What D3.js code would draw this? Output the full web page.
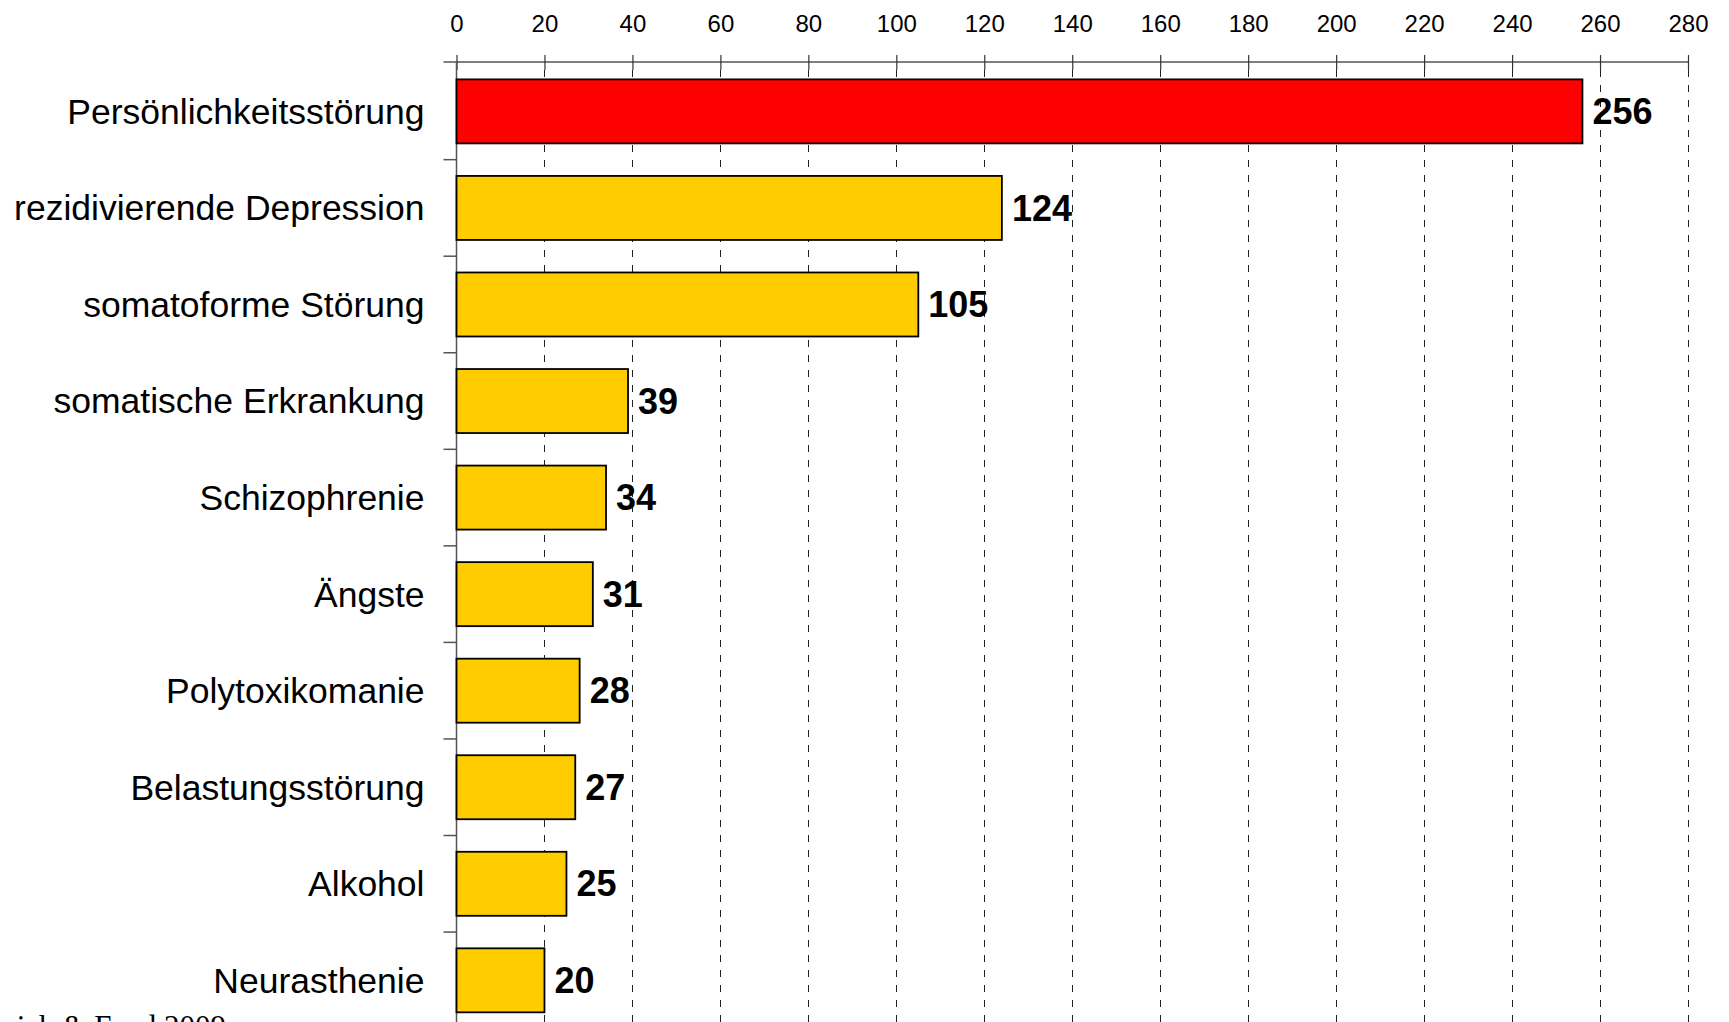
<!DOCTYPE html>
<html><head><meta charset="utf-8">
<script src="https://cdn.jsdelivr.net/npm/d3@7"></script>
<style>
html,body{margin:0;padding:0;background:#fff;overflow:hidden;}
svg{display:block;}
</style></head>
<body>
<svg id="chart" width="1729" height="1022"></svg>
<script>
const categories = ["Persönlichkeitsstörung","rezidivierende Depression","somatoforme Störung","somatische Erkrankung","Schizophrenie","Ängste","Polytoxikomanie","Belastungsstörung","Alkohol","Neurasthenie"];
const values = [256,124,105,39,34,31,28,27,25,20];
const barColors = ["#FF0000","#FFCC00","#FFCC00","#FFCC00","#FFCC00","#FFCC00","#FFCC00","#FFCC00","#FFCC00","#FFCC00"];
const tickValues = [0,20,40,60,80,100,120,140,160,180,200,220,240,260,280];
const sourceText = "ich & Fend 2009";

(function(){
const svg = d3.select("#chart");
const plotLeft = 456.5, plotRight = 1688, plotTop = 62, bandStep = 96.55;
const pIn = 0.337, pOut = 0.18;
const x = d3.scaleLinear().domain([0,280]).range([plotLeft,plotRight]);
const y = d3.scaleBand().domain(categories)
  .range([plotTop, plotTop + bandStep*(categories.length - pIn + 2*pOut)])
  .paddingInner(pIn).paddingOuter(pOut);

// dashed gridlines
svg.append("g").selectAll("line").data(tickValues.filter(d=>d>0)).join("line")
  .attr("x1", d=>Math.round(x(d))+0.5).attr("x2", d=>Math.round(x(d))+0.5)
  .attr("y1", 70).attr("y2", 1022)
  .attr("stroke", "#222").attr("stroke-width", 1).attr("stroke-dasharray", "7,8");

// top axis
const gx = svg.append("g").attr("transform", `translate(0,${plotTop})`)
  .call(d3.axisTop(x).tickValues(tickValues).tickSizeInner(7).tickSizeOuter(0).tickPadding(23));
gx.select(".domain").attr("stroke", "#555").attr("stroke-width", 1.5).attr("d", `M${plotLeft-13},0H${plotRight}`);
gx.selectAll(".tick line").attr("stroke", "#333").attr("stroke-width", 1.2).attr("y1", -7).attr("y2", 8);
gx.selectAll(".tick text").attr("font-family", "'Liberation Sans', Arial, sans-serif").attr("font-size", 24).attr("fill", "#000");

// left axis line and band boundary ticks
svg.append("line").attr("x1", plotLeft).attr("x2", plotLeft).attr("y1", plotTop).attr("y2", 1022)
  .attr("stroke", "#555").attr("stroke-width", 1.5);
const boundaries = categories.map(c => y(c) - y.step()*y.paddingInner()/2 ).slice(1);
svg.append("g").selectAll("line").data(boundaries).join("line")
  .attr("x1", plotLeft-13).attr("x2", plotLeft).attr("y1", d=>d).attr("y2", d=>d)
  .attr("stroke", "#555").attr("stroke-width", 1.5);

// bars
svg.append("g").selectAll("rect").data(values).join("rect")
  .attr("x", x(0)).attr("y", (d,i)=>y(categories[i]))
  .attr("width", d=>x(d)-x(0)).attr("height", y.bandwidth())
  .attr("fill", (d,i)=>barColors[i]).attr("stroke", "#000").attr("stroke-width", 1.8);

// category labels
svg.append("g").selectAll("text").data(categories).join("text")
  .attr("x", 424.5).attr("y", d=>y(d)+y.bandwidth()/2)
  .attr("dy", "0.35em").attr("text-anchor", "end")
  .attr("font-family", "'Liberation Sans', Arial, sans-serif").attr("font-size", 35.5).attr("fill", "#000")
  .text(d=>d);

// value labels
svg.append("g").selectAll("text").data(values).join("text")
  .attr("x", d=>x(d)+10).attr("y", (d,i)=>y(categories[i])+y.bandwidth()/2)
  .attr("dy", "0.35em").attr("text-anchor", "start")
  .attr("font-family", "'Liberation Sans', Arial, sans-serif").attr("font-size", 36).attr("font-weight", "bold").attr("fill", "#000")
  .text(d=>d);

// source (cut off at bottom, as in the reference)
svg.append("text").attr("x", 226).attr("y", 1037).attr("text-anchor", "end")
  .attr("font-family", "'Liberation Serif', 'Times New Roman', serif").attr("font-size", 31).attr("fill", "#000")
  .text(sourceText);
})();
</script>
</body></html>
